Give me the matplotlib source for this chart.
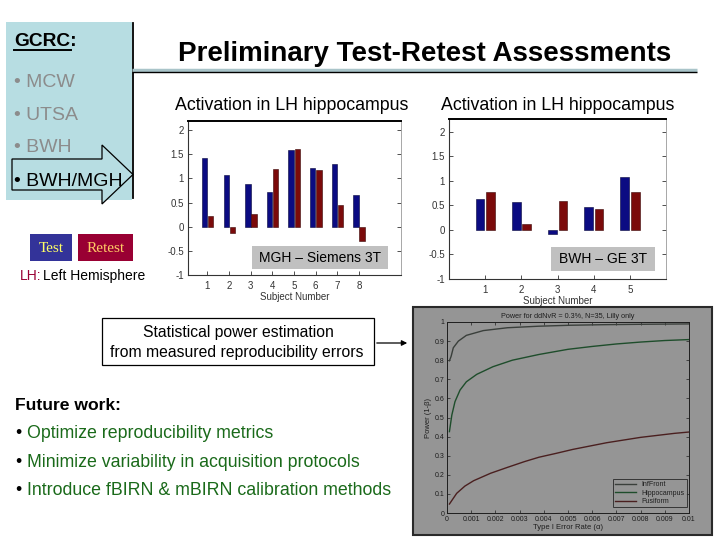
import numpy as np
import matplotlib
matplotlib.use("Agg")
import matplotlib.pyplot as plt
from matplotlib.patches import Rectangle, Polygon

# ---------------- data ----------------
subjects_mgh = [1, 2, 3, 4, 5, 6, 7, 8]
test_mgh = [1.42, 1.08, 0.89, 0.72, 1.59, 1.21, 1.30, 0.65]
retest_mgh = [0.22, -0.12, 0.26, 1.19, 1.61, 1.18, 0.46, -0.29]

subjects_bwh = [1, 2, 3, 4, 5]
test_bwh = [0.63, 0.57, -0.08, 0.46, 1.07]
retest_bwh = [0.77, 0.12, 0.585, 0.42, 0.78]

bar_yticks = [-1, -0.5, 0, 0.5, 1, 1.5, 2]
bar_yticklabels = ["-1", "-0.5", "0", "0.5", "1", "1.5", "2"]

alpha_inffront = [0.0001, 0.00017, 0.00026, 0.00047, 0.0008, 0.0015, 0.0025, 0.0038, 0.0051, 0.0065, 0.008, 0.01]
power_inffront = [0.797, 0.82, 0.865, 0.90, 0.93, 0.955, 0.97, 0.978, 0.983, 0.986, 0.988, 0.99]

alpha_hippo = [0.0001, 0.0002, 0.00033, 0.00054, 0.0008, 0.00123, 0.0019, 0.0027, 0.0038, 0.005, 0.006, 0.007, 0.008, 0.009, 0.01]
power_hippo = [0.426, 0.513, 0.583, 0.644, 0.687, 0.726, 0.766, 0.80, 0.83, 0.857, 0.872, 0.885, 0.895, 0.903, 0.908]

alpha_fusi = [0.0001, 0.0004, 0.00074, 0.0011, 0.0018, 0.0025, 0.0032, 0.0038, 0.0045, 0.0052, 0.0066, 0.008, 0.0094, 0.01]
power_fusi = [0.047, 0.103, 0.141, 0.169, 0.208, 0.239, 0.269, 0.292, 0.312, 0.333, 0.368, 0.396, 0.417, 0.424]

power_xticks = [0, 0.001, 0.002, 0.003, 0.004, 0.005, 0.006, 0.007, 0.008, 0.009, 0.01]
power_xticklabels = ["0", "0.001", "0.002", "0.003", "0.004", "0.005", "0.006", "0.007", "0.008", "0.009", "0.01"]
power_yticks = [0, 0.1, 0.2, 0.3, 0.4, 0.5, 0.6, 0.7, 0.8, 0.9, 1]
power_yticklabels = ["0", "0.1", "0.2", "0.3", "0.4", "0.5", "0.6", "0.7", "0.8", "0.9", "1"]

gcrc_sites = ["MCW", "UTSA", "BWH", "BWH/MGH"]
future_items = ["Optimize reproducibility metrics",
                "Minimize variability in acquisition protocols",
                "Introduce fBIRN & mBIRN calibration methods"]

# ---------------- styles ----------------
SANS = ["Liberation Sans", "DejaVu Sans"]
SERIF = ["Liberation Serif", "DejaVu Serif"]
plt.rcParams["font.family"] = SANS
W, H = 720, 540
BLUE = "#0b0b82"
RED = "#7b0a0a"
LIGHTBLUE = "#b7dde2"
GRAYTXT = "#8c8c8c"
GREEN = "#1a6a1a"
PGRAY = "#959595"

fig = plt.figure(figsize=(7.2, 5.4), dpi=100)
fig.patch.set_facecolor("white")


def axes_px(l, t, r, b):
    return fig.add_axes([l / W, 1 - b / H, (r - l) / W, (b - t) / H])


# background overlay
bg = fig.add_axes([0, 0, 1, 1])
bg.set_xlim(0, W)
bg.set_ylim(H, 0)
bg.axis("off")
bg.set_zorder(0)

# left panel
bg.add_patch(Rectangle((6, 22), 126, 178, facecolor=LIGHTBLUE, edgecolor="none"))
bg.plot([132.5, 132.5], [23, 198], color="black", lw=1.3)
bg.plot([132, 697], [70, 70], color="#a9c4c9", lw=2.5, solid_capstyle="butt")
bg.plot([132, 697], [72.3, 72.3], color="black", lw=1.0, solid_capstyle="butt")
bg.add_patch(Polygon([(12, 159), (102, 159), (102, 145), (133, 174.5), (102, 204),
                      (102, 190), (12, 190)], closed=True,
                     facecolor=LIGHTBLUE, edgecolor="black", lw=0.9))
bg.text(14, 46.5, "GCRC:", fontsize=13.8, fontweight="bold", va="baseline", ha="left")
bg.plot([14, 71], [49.5, 49.5], color="black", lw=1.4)
site_y = [87, 120, 152, 186]
site_col = [GRAYTXT, GRAYTXT, GRAYTXT, "black"]
for s, yy, c in zip(gcrc_sites, site_y, site_col):
    bg.text(14, yy, "\u2022 " + s, fontsize=14.0, color=c, va="baseline", ha="left")

# title
bg.text(425, 61, "Preliminary Test-Retest Assessments", fontsize=20,
        fontweight="bold", ha="center", va="baseline")

# Test / Retest legend
bg.add_patch(Rectangle((30, 234), 42, 27, facecolor="#333399", edgecolor="none"))
bg.add_patch(Rectangle((78, 234), 55, 27, facecolor="#990033", edgecolor="none"))
bg.text(51, 252.5, "Test", family=SERIF, fontsize=11, color="#ffff66", ha="center", va="baseline")
bg.text(105.5, 252.5, "Retest", family=SERIF, fontsize=11, color="#ffcc66", ha="center", va="baseline")
bg.text(20, 280, "LH:", fontsize=10, color="#990033", ha="left", va="baseline")
bg.text(43, 280, "Left Hemisphere", fontsize=10, color="black", ha="left", va="baseline")

# bar chart titles
bg.text(292, 110.5, "Activation in LH hippocampus", fontsize=12.8, ha="center", va="baseline")
bg.text(558, 110.5, "Activation in LH hippocampus", fontsize=12.8, ha="center", va="baseline")

# statistical box + arrow
bg.add_patch(Rectangle((102, 318), 272, 47, facecolor="white", edgecolor="black", lw=0.9))
bg.text(238, 337, "Statistical power estimation", fontsize=11.3, ha="center", va="baseline")
bg.text(237, 357, "from measured reproducibility errors", fontsize=11.3, ha="center", va="baseline")
bg.annotate("", xy=(410, 343), xytext=(374, 343),
            arrowprops=dict(arrowstyle="-|>", color="black", lw=0.9, mutation_scale=8))

# future work
bg.text(15, 410, "Future work:", fontsize=12.6, fontweight="bold", ha="left", va="baseline")
for item, yy in zip(future_items, [438, 467, 495]):
    bg.text(15, yy, "\u2022", fontsize=12.8, color="black", ha="left", va="baseline")
    bg.text(27, yy, item, fontsize=12.8, color=GREEN, ha="left", va="baseline")

# power chart frame
bg.add_patch(Rectangle((413, 307), 299, 228, facecolor=PGRAY, edgecolor="#2a2a2a", lw=1.5))


def style_bar_axes(ax, xlim, ylim):
    ax.set_xlim(*xlim)
    ax.set_ylim(*ylim)
    ax.set_yticks(bar_yticks)
    ax.set_yticklabels(bar_yticklabels)
    ax.tick_params(direction="in", length=3, width=0.6, labelsize=7, colors="#333333",
                   right=True, top=False, pad=3)
    ax.tick_params(axis="x", pad=4)
    for side in ["left", "bottom"]:
        ax.spines[side].set_color("#333333")
        ax.spines[side].set_linewidth(0.8)
    ax.spines["top"].set_color("black")
    ax.spines["top"].set_linewidth(1.4)
    ax.spines["right"].set_color("#999999")
    ax.spines["right"].set_linewidth(0.6)
    ax.set_xlabel("Subject Number", fontsize=7, color="#333333", labelpad=1)
    ax.set_zorder(2)


# bar chart 1
ax1 = axes_px(188, 121, 401, 275)
x1 = np.array(subjects_mgh)
ax1.bar(x1 - 0.13, test_mgh, width=0.25, color=BLUE, edgecolor="#05053a", lw=0.4)
ax1.bar(x1 + 0.15, retest_mgh, width=0.25, color=RED, edgecolor="#3a0505", lw=0.4)
ax1.set_xticks(subjects_mgh)
style_bar_axes(ax1, (0.1, 9.95), (-1, 2.19))

# bar chart 2
ax2 = axes_px(449, 119, 666, 279)
x2 = np.array(subjects_bwh)
ax2.bar(x2 - 0.14, test_bwh, width=0.24, color=BLUE, edgecolor="#05053a", lw=0.4)
ax2.bar(x2 + 0.15, retest_bwh, width=0.24, color=RED, edgecolor="#3a0505", lw=0.4)
ax2.set_xticks(subjects_bwh)
style_bar_axes(ax2, (0, 6), (-1, 2.26))

# power chart
ax3 = axes_px(447, 322, 689, 513)
ax3.set_facecolor(PGRAY)
ax3.plot(alpha_inffront, power_inffront, color="#3a3f3b", lw=1.0, label="InfFront")
ax3.plot(alpha_hippo, power_hippo, color="#1e4d2b", lw=1.0, label="Hippocampus")
ax3.plot(alpha_fusi, power_fusi, color="#4a1f1f", lw=1.0, label="Fusiform")
ax3.set_xlim(0, 0.01)
ax3.set_ylim(0, 1)
ax3.set_xticks(power_xticks)
ax3.set_xticklabels(power_xticklabels)
ax3.set_yticks(power_yticks)
ax3.set_yticklabels(power_yticklabels)
ax3.tick_params(direction="in", length=2.5, width=0.5, labelsize=5, colors="#1e1e1e",
                right=True, top=True, pad=2)
for sp in ax3.spines.values():
    sp.set_color("#1e1e1e")
    sp.set_linewidth(0.7)
ax3.set_title("Power for ddNvR = 0.3%, N=35, Lilly only", fontsize=5.2, color="#1e1e1e", pad=3)
ax3.set_xlabel("Type I Error Rate (\u03b1)", fontsize=5.5, color="#1e1e1e", labelpad=1)
ax3.set_ylabel("Power (1-\u03b2)", fontsize=5.5, color="#1e1e1e", labelpad=2)
leg = ax3.legend(loc="lower right", bbox_to_anchor=(0.992, 0.031), borderaxespad=0,
                 fontsize=5, frameon=True, fancybox=False, facecolor=PGRAY,
                 edgecolor="#1e1e1e", handlelength=3, labelspacing=0.2, borderpad=0.3)
leg.get_frame().set_linewidth(0.7)
for t in leg.get_texts():
    t.set_color("#1e1e1e")
ax3.set_zorder(2)

# foreground overlay for site labels
fg = fig.add_axes([0, 0, 1, 1])
fg.set_xlim(0, W)
fg.set_ylim(H, 0)
fg.axis("off")
fg.patch.set_visible(False)
fg.set_zorder(5)
fg.add_patch(Rectangle((252, 246), 136, 23, facecolor="#c0c0c0", edgecolor="none"))
fg.text(320, 257.5, "MGH \u2013 Siemens 3T", fontsize=10, ha="center", va="center")
fg.add_patch(Rectangle((551, 247), 104, 24, facecolor="#c0c0c0", edgecolor="none"))
fg.text(603, 259, "BWH \u2013 GE 3T", fontsize=10, ha="center", va="center")

fig.savefig("out.png", dpi=100)
